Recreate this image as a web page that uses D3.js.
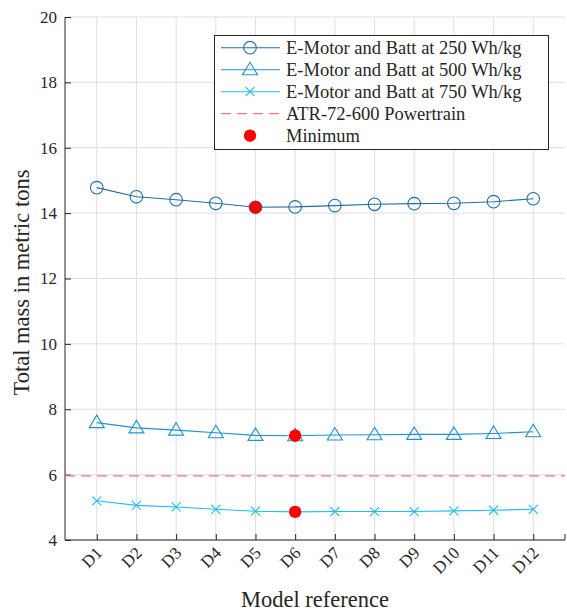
<!DOCTYPE html>
<html><head><meta charset="utf-8">
<script src="https://cdn.jsdelivr.net/npm/d3@7"></script>
<style>body{margin:0;background:#fff}svg{display:block}svg text{font-family:"Liberation Serif",Tinos,"Times New Roman",Times,"DejaVu Serif","Noto Serif",serif !important;fill:#262626}</style>
</head><body><svg id="c" width="567" height="613"></svg>
<script>
const categories = ["D1","D2","D3","D4","D5","D6","D7","D8","D9","D10","D11","D12"];
const s250 = [14.78,14.50,14.41,14.30,14.18,14.19,14.23,14.27,14.29,14.30,14.35,14.44];
const s500 = [7.59,7.43,7.36,7.28,7.20,7.19,7.21,7.22,7.23,7.23,7.26,7.31];
const s750 = [5.20,5.06,5.01,4.94,4.88,4.86,4.87,4.87,4.87,4.89,4.91,4.94];
const atrValue = 5.96;
const yTicks = [4,6,8,10,12,14,16,18,20];
const seriesNames = ["E-Motor and Batt at 250 Wh/kg","E-Motor and Batt at 500 Wh/kg","E-Motor and Batt at 750 Wh/kg"];
const atrName = "ATR-72-600 Powertrain";
const minName = "Minimum";
const colors = ["#1f6ea8","#1f92d2","#22bdf0"];
const markers = ["circle","triangle","cross"];

const svg = d3.select("#c");
const L=65,R=565,T=17,B=540;
const x = d3.scalePoint().domain(categories).range([L,R]).padding(0.8);
const y = d3.scaleLinear().domain([4,20]).range([B,T]);

// grid
const g = svg.append("g");
g.selectAll(".gx").data(categories).enter().append("line")
 .attr("x1",d=>x(d)).attr("x2",d=>x(d)).attr("y1",T).attr("y2",B).attr("stroke","#dfdfdf");
g.selectAll(".gy").data(yTicks).enter().append("line")
 .attr("x1",L).attr("x2",R).attr("y1",d=>y(d)).attr("y2",d=>y(d)).attr("stroke","#dfdfdf");

// axes
const ya = svg.append("g").attr("transform",`translate(${L},0)`)
 .call(d3.axisLeft(y).tickValues(yTicks).tickSize(-6).tickPadding(8).tickFormat(d3.format("d")));
ya.attr("font-family",null);
ya.select(".domain").attr("stroke","#262626").attr("d",`M0,${T}V${B}`);
ya.selectAll(".tick line").attr("stroke","#262626");
ya.selectAll("text").attr("font-size",17).attr("fill","#262626");

const xa = svg.append("g").attr("transform",`translate(0,${B})`)
 .call(d3.axisBottom(x).tickSize(-6).tickPadding(0));
xa.attr("font-family",null);
xa.select(".domain").attr("stroke","#262626").attr("d",`M${L},0H${R}`);
xa.selectAll(".tick line").attr("stroke","#262626");
xa.append("line").attr("x1",R).attr("x2",R).attr("y1",0).attr("y2",-6).attr("stroke","#262626");
xa.selectAll(".tick text").attr("font-size",17).attr("fill","#262626")
 .attr("text-anchor","end").attr("dy",0).attr("transform","translate(6,14) rotate(-45)");

// axis labels
svg.append("text").attr("x",315).attr("y",607).attr("text-anchor","middle").attr("font-size",22.5).text("Model reference");
svg.append("text").attr("transform",`translate(29,${(T+B)/2 + 4}) rotate(-90)`).attr("text-anchor","middle").attr("font-size",22.5).text("Total mass in metric tons");

// ATR line
svg.append("line").attr("x1",L).attr("x2",R).attr("y1",y(atrValue)).attr("y2",y(atrValue))
 .attr("stroke","#ff7070").attr("stroke-width",1.2).attr("stroke-dasharray","10,6");

function drawMarker(sel,type,cx,cy,color){
  if(type==="circle") sel.append("circle").attr("cx",cx).attr("cy",cy).attr("r",6.3).attr("fill","none").attr("stroke",color).attr("stroke-width",1.1);
  else if(type==="triangle") sel.append("path").attr("d",`M${cx},${cy-7.5}L${cx+7.5},${cy+5}L${cx-7.5},${cy+5}Z`).attr("fill","none").attr("stroke",color).attr("stroke-width",1.1);
  else sel.append("path").attr("d",`M${cx-4.5},${cy-4.5}L${cx+4.5},${cy+4.5}M${cx-4.5},${cy+4.5}L${cx+4.5},${cy-4.5}`).attr("stroke",color).attr("stroke-width",1.1);
}

const all=[s250,s500,s750];
const line = d3.line().x((d,i)=>x(categories[i])).y(d=>y(d));
all.forEach((s,k)=>{
  svg.append("path").datum(s).attr("d",line).attr("fill","none").attr("stroke",colors[k]).attr("stroke-width",1.1);
  const mg=svg.append("g");
  s.forEach((v,i)=>drawMarker(mg,markers[k],x(categories[i]),y(v),colors[k]));
});
all.forEach(s=>{
  const i=d3.minIndex(s);
  svg.append("circle").attr("cx",x(categories[i])).attr("cy",y(s[i])).attr("r",6.2).attr("fill","#ff0000");
});

// legend
const lg=svg.append("g");
lg.append("rect").attr("x",214.5).attr("y",35.5).attr("width",334).attr("height",114).attr("fill","#fff").attr("stroke","#262626").attr("stroke-width",1);
const rows=[...seriesNames.map((n,k)=>({n,k})),{n:atrName,k:"atr"},{n:minName,k:"min"}];
rows.forEach((r,i)=>{
  const yy=47.7+i*22;
  if(typeof r.k==="number"){
    lg.append("line").attr("x1",221).attr("x2",280).attr("y1",yy).attr("y2",yy).attr("stroke",colors[r.k]).attr("stroke-width",1.1);
    drawMarker(lg,markers[r.k],250,yy,colors[r.k]);
  } else if(r.k==="atr"){
    lg.append("line").attr("x1",221).attr("x2",280).attr("y1",yy).attr("y2",yy).attr("stroke","#ff7070").attr("stroke-width",1.2).attr("stroke-dasharray","10,6");
  } else {
    lg.append("circle").attr("cx",250).attr("cy",yy).attr("r",6.2).attr("fill","#ff0000");
  }
  lg.append("text").attr("x",286).attr("y",yy+6).attr("font-size",18.5).text(r.n);
});
</script></body></html>
